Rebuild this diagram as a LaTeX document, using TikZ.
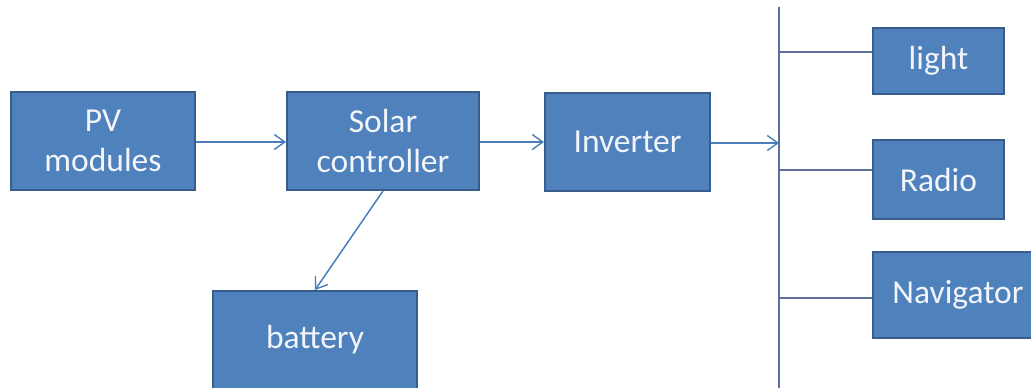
\documentclass[tikz,border=0pt]{standalone}
\usepackage{fontspec}
\setmainfont{Carlito}
\usetikzlibrary{arrows.meta}
\definecolor{boxfill}{HTML}{4F81BD}
\definecolor{boxedge}{HTML}{385D8A}
\definecolor{linecol}{HTML}{4A7EBB}
\definecolor{buscol}{HTML}{5B6E9E}
\definecolor{txtcol}{HTML}{F2F5FA}
\tikzset{
  blk/.style={draw=boxedge, line width=2pt, fill=boxfill, text=txtcol, inner sep=0pt,
    align=center, font=\fontsize{33.5}{40}\selectfont, anchor=center},
  conn/.style={draw=linecol, line width=1.5pt},
  arr/.style={conn, -{Straight Barb[length=10.5pt,width=15pt,line width=1.4pt]}},
  busline/.style={draw=buscol, line width=2pt},
  branch/.style={draw=buscol, line width=1.6pt}
}
\begin{document}
\begin{tikzpicture}[x=1pt,y=-1pt]
\useasboundingbox (0,0) rectangle (1031,388);
\clip (0,0) rectangle (1031,388);
\fill[white] (0,0) rectangle (1031,388);
\node[blk, minimum width=184pt, minimum height=98pt] (pv) at (103,141) {PV\\modules};
\node[blk, minimum width=192pt, minimum height=98pt] (sc) at (383,141) {Solar\\controller};
\node[blk, minimum width=165pt, minimum height=98pt] (inv) at (627.5,142) {Inverter};
\node[blk, minimum width=204pt, minimum height=98pt] (bat) at (315,340) {battery};
\node[blk, minimum width=131pt, minimum height=66pt] (light) at (938.5,61) {light};
\node[blk, minimum width=131pt, minimum height=79pt] (radio) at (938.5,179.5) {Radio};
\node[blk, minimum width=170pt, minimum height=86pt] (nav) at (958,295) {Navigator};
\coordinate (bustop) at (779,7);
\coordinate (busbot) at (779,395);
\coordinate (b1) at (779,52);
\coordinate (b2) at (779,170);
\coordinate (b3) at (779,298);
\draw[busline] (bustop) -- (busbot);
\draw[arr] (pv.east |- 0,142) -- (sc.west |- 0,142);
\draw[arr] (sc.east |- 0,142) -- (inv.west |- 0,142);
\draw[arr] (inv.east |- 0,143) -- (bustop |- 0,143);
\draw[arr] (sc.south) -- (bat.north);
\draw[branch] (b1) -- (b1 -| light.west);
\draw[branch] (b2) -- (b2 -| radio.west);
\draw[branch] (b3) -- (b3 -| nav.west);
\end{tikzpicture}
\end{document}
